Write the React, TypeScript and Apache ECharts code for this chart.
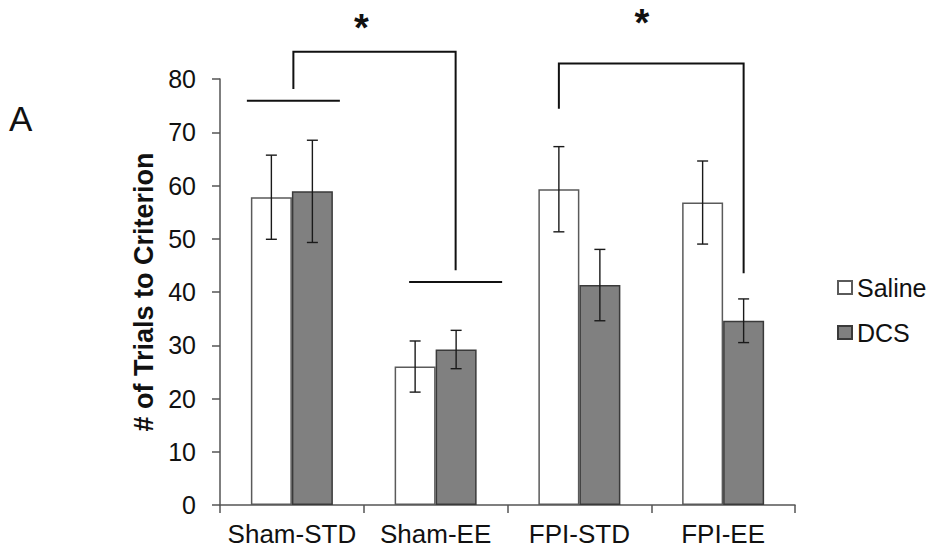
import React, { useEffect, useRef } from "react";
import * as echarts from "echarts";

const categories = ["Sham-STD", "Sham-EE", "FPI-STD", "FPI-EE"];
const salineValues = [57.8, 26.0, 59.3, 56.8];
const salineErrors = [7.9, 4.8, 8.0, 7.8];
const dcsValues = [58.9, 29.2, 41.3, 34.6];
const dcsErrors = [9.6, 3.6, 6.7, 4.1];
const yTicks = [0, 10, 20, 30, 40, 50, 60, 70, 80];

const GRID = { left: 220, right: 148, top: 79, bottom: 49 };
const BAR_W = 41;
const FONT = "'Liberation Sans', Arial, sans-serif";

export default function App() {
  const ref = useRef<HTMLDivElement>(null);
  useEffect(() => {
    document.body.style.margin = "0";
    if (!ref.current) return;
    const chart = echarts.init(ref.current, null, { renderer: "svg" });

    const errData: number[][] = [];
    categories.forEach((_, i) => {
      errData.push([i, salineValues[i], salineErrors[i], -1]);
      errData.push([i, dcsValues[i], dcsErrors[i], 1]);
    });

    const option: any = {
      animation: false,
      backgroundColor: "#ffffff",
      textStyle: { fontFamily: FONT },
      grid: { ...GRID, containLabel: false },
      legend: {
        orient: "vertical",
        left: 832,
        top: 270,
        itemWidth: 14,
        itemHeight: 13,
        itemGap: 20,
        icon: "rect",
        textStyle: { fontSize: 25, color: "#111", fontFamily: FONT },
        data: ["Saline", "DCS"],
      },
      xAxis: {
        type: "category",
        data: categories,
        axisLine: { lineStyle: { color: "#555", width: 1.5 } },
        axisTick: { show: true, length: 8, lineStyle: { color: "#555", width: 1.5 } },
        axisLabel: { fontSize: 26, color: "#111", margin: 16, interval: 0, fontFamily: FONT },
      },
      yAxis: {
        type: "value",
        min: yTicks[0],
        max: yTicks[yTicks.length - 1],
        interval: 10,
        name: "# of Trials to Criterion",
        nameLocation: "middle",
        nameRotate: 90,
        nameGap: 58,
        nameTextStyle: { fontSize: 27, fontWeight: "bold", color: "#111", fontFamily: FONT },
        axisLine: { show: true, lineStyle: { color: "#555", width: 1.5 } },
        axisTick: { show: true, inside: false, length: 8, lineStyle: { color: "#555", width: 1.5 } },
        axisLabel: { fontSize: 25, color: "#111", margin: 24, fontFamily: FONT },
        splitLine: { show: false },
      },
      series: [
        {
          name: "Saline",
          type: "bar",
          data: salineValues,
          barWidth: BAR_W,
          barGap: "0%",
          itemStyle: { color: "#ffffff", borderColor: "#5a5a5a", borderWidth: 1.5 },
        },
        {
          name: "DCS",
          type: "bar",
          data: dcsValues,
          barWidth: BAR_W,
          barGap: "0%",
          itemStyle: { color: "#808080", borderColor: "#3a3a3a", borderWidth: 1.5 },
        },
        {
          type: "custom",
          name: "err",
          data: errData,
          z: 5,
          renderItem: (params: any, api: any) => {
            const i = api.value(0);
            const v = api.value(1);
            const e = api.value(2);
            const side = api.value(3);
            const top = api.coord([i, v + e]);
            const bot = api.coord([i, v - e]);
            const x = top[0] + side * (BAR_W / 2);
            const cap = 5.5;
            const style = { stroke: "#1a1a1a", lineWidth: 1.4 };
            return {
              type: "group",
              children: [
                { type: "line", shape: { x1: x, y1: top[1], x2: x, y2: bot[1] }, style },
                { type: "line", shape: { x1: x - cap, y1: top[1], x2: x + cap, y2: top[1] }, style },
                { type: "line", shape: { x1: x - cap, y1: bot[1], x2: x + cap, y2: bot[1] }, style },
              ],
            };
          },
        },
      ],
    };
    chart.setOption(option);

    // Significance brackets, placed in data coordinates
    const px = (cat: number, val: number) =>
      chart.convertToPixel({ gridIndex: 0 }, [cat, val]) as number[];
    const catX = (i: number, side: number) => {
      const p = px(i, 0);
      return p[0] + side * (BAR_W / 2);
    };
    const yAt = (v: number) => px(0, v)[1];

    const lineStyle = { stroke: "#111", lineWidth: 2 };
    const g: any[] = [];
    // left bracket
    const xL0 = catX(0, 0) + 1.5;
    const xL1 = catX(1, 0) + 20;
    g.push({ type: "line", shape: { x1: xL0 - 46.5, y1: yAt(75.9), x2: xL0 + 46.5, y2: yAt(75.9) }, style: lineStyle });
    g.push({ type: "line", shape: { x1: xL1 - 46.5, y1: yAt(41.9), x2: xL1 + 46.5, y2: yAt(41.9) }, style: lineStyle });
    g.push({
      type: "polyline",
      shape: { points: [[xL0, yAt(78.1)], [xL0, yAt(85.1)], [xL1, yAt(85.1)], [xL1, yAt(44.1)]] },
      style: { ...lineStyle, fill: null },
    });
    g.push({
      type: "text",
      style: { text: "*", x: xL0 + 68, y: yAt(85.1) - 43, align: "center", verticalAlign: "top", font: `bold 38px ${FONT}`, fill: "#111" },
    });
    // right bracket
    const xR0 = catX(2, -1);
    const xR1 = catX(3, 1);
    g.push({
      type: "polyline",
      shape: { points: [[xR0, yAt(74.4)], [xR0, yAt(82.9)], [xR1, yAt(82.9)], [xR1, yAt(43.5)]] },
      style: { ...lineStyle, fill: null },
    });
    g.push({
      type: "text",
      style: { text: "*", x: xR0 + 83, y: yAt(82.9) - 60, align: "center", verticalAlign: "top", font: `bold 38px ${FONT}`, fill: "#111" },
    });
    // panel letter
    g.push({
      type: "text",
      style: { text: "A", x: 9, y: 101, font: `normal 35px ${FONT}`, fill: "#111" },
    });
    chart.setOption({ graphic: { elements: g } });

    return () => chart.dispose();
  }, []);
  return <div ref={ref} style={{ width: 943, height: 554 }} />;
}
